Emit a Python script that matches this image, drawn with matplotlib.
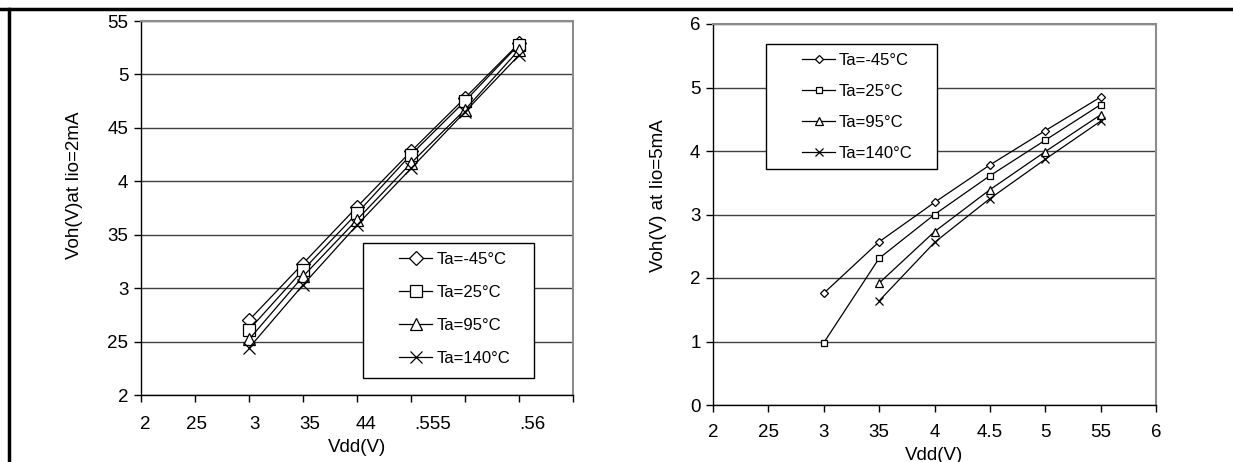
import matplotlib
matplotlib.use('Agg')
import matplotlib.pyplot as plt
from matplotlib.lines import Line2D
from matplotlib.patches import Rectangle

plt.rcParams['font.family'] = ['Liberation Sans', 'DejaVu Sans']

W, H = 1233, 462

labels = ['Ta=-45°C', 'Ta=25°C', 'Ta=95°C', 'Ta=140°C']
markers = ['D', 's', '^', 'x']

# left chart: Voh at Iio=2mA vs Vdd
vdd_2ma = [3, 3.5, 4, 4.5, 5, 5.5]
voh2_m45 = [2.70, 3.23, 3.76, 4.28, 4.78, 5.29]
voh2_25 = [2.61, 3.17, 3.70, 4.25, 4.75, 5.28]
voh2_95 = [2.52, 3.11, 3.64, 4.17, 4.67, 5.23]
voh2_140 = [2.44, 3.03, 3.59, 4.12, 4.65, 5.18]

# right chart: Voh at Iio=5mA vs Vdd
vdd_5ma_a = [3, 3.5, 4, 4.5, 5, 5.5]
vdd_5ma_b = [3.5, 4, 4.5, 5, 5.5]
voh5_m45 = [1.76, 2.57, 3.19, 3.78, 4.32, 4.85]
voh5_25 = [0.98, 2.31, 3.00, 3.61, 4.17, 4.73]
voh5_95 = [1.92, 2.73, 3.39, 3.99, 4.57]
voh5_140 = [1.64, 2.56, 3.25, 3.87, 4.47]

# tick labels as printed (garbled in the source)
yt_left = [2, 2.5, 3, 3.5, 4, 4.5, 5, 5.5]
yt_left_lab = ['2', '25', '3', '35', '4', '45', '5', '55']
xt_left_lab_pos = [2.04, 2.51, 3.05, 3.56, 4.08, 4.7, 5.62]
xt_left_lab = ['2', '25', '3', '35', '44', '.555', '.56']
xt = [2, 2.5, 3, 3.5, 4, 4.5, 5, 5.5, 6]
xt_right_lab = ['2', '25', '3', '35', '4', '4.5', '5', '55', '6']
yt_right = [0, 1, 2, 3, 4, 5, 6]

FS = 13.5


def px_box(x0, y0, x1, y1):
    return [x0 / W, 1 - y1 / H, (x1 - x0) / W, (y1 - y0) / H]


def style_axes(ax):
    for s in ['top', 'right']:
        ax.spines[s].set_color('#8c8c8c')
        ax.spines[s].set_linewidth(1.5)
    for s in ['left', 'bottom']:
        ax.spines[s].set_color('black')
        ax.spines[s].set_linewidth(1.0)
    ax.yaxis.grid(True, color='#404040', linewidth=1.0)
    ax.set_axisbelow(True)
    ax.tick_params(which='major', direction='out', length=5, width=1,
                   labelsize=FS, top=False, right=False)


fig = plt.figure(figsize=(W / 100, H / 100), dpi=100)

# outer frame (top and left lines)
fig.add_artist(Line2D([0, 1], [1 - 8.5 / H, 1 - 8.5 / H], color='black', lw=2.5))
fig.add_artist(Line2D([8.5 / W, 8.5 / W], [0, 1 - 8.5 / H], color='black', lw=2.5))

# ---------- left ----------
ax1 = fig.add_axes(px_box(141, 21, 573, 395))
series1 = [voh2_m45, voh2_25, voh2_95, voh2_140]
sizes1 = [7, 8.5, 9, 9]
for yv, m, lab, ms in zip(series1, markers, labels, sizes1):
    ax1.plot(vdd_2ma, yv, color='black', lw=0.9, marker=m, ms=ms,
             mfc='white' if m != 'x' else 'black', mec='black', mew=0.9, label=lab)
ax1.set_xlim(2, 6)
ax1.set_ylim(2, 5.5)
ax1.set_yticks(yt_left, labels=yt_left_lab)
ax1.set_xticks(xt, labels=[''] * len(xt))
ax1.set_xticks(xt_left_lab_pos, labels=xt_left_lab, minor=True)
style_axes(ax1)
ax1.tick_params(axis='x', which='minor', length=0, labelsize=FS, pad=15)
ax1.tick_params(axis='y', pad=4)
ax1.set_xlabel('Vdd(V)', fontsize=FS)
ax1.xaxis.set_label_coords(0.5, -0.118)
ax1.set_ylabel('Voh(V)at Iio=2mA', fontsize=FS)
ax1.yaxis.set_label_coords(-0.135, 0.56)

fig.add_artist(Rectangle((363 / W, 1 - 378 / H), 171 / W, 135 / H, transform=fig.transFigure,
                         facecolor='white', edgecolor='black', lw=1.0, zorder=3))
leg1 = ax1.legend(loc='upper left', bbox_to_anchor=(399 / W, 1 - 252 / H),
                  bbox_transform=fig.transFigure, frameon=False, borderpad=0,
                  borderaxespad=0, handlelength=2.0, handletextpad=0.25,
                  labelspacing=1.08, fontsize=12)
leg1.set_zorder(4)
fig.add_artist(leg1)

# ---------- right ----------
ax2 = fig.add_axes(px_box(713, 24, 1156, 405))
xs2 = [vdd_5ma_a, vdd_5ma_a, vdd_5ma_b, vdd_5ma_b]
series2 = [voh5_m45, voh5_25, voh5_95, voh5_140]
sizes2 = [4, 5, 6, 6]
for xv, yv, m, lab, ms in zip(xs2, series2, markers, labels, sizes2):
    ax2.plot(xv, yv, color='black', lw=0.9, marker=m, ms=ms,
             mfc='white' if m != 'x' else 'black', mec='black', mew=0.9, label=lab)
ax2.set_xlim(2, 6)
ax2.set_ylim(0, 6)
ax2.set_yticks(yt_right)
ax2.set_xticks(xt, labels=xt_right_lab)
style_axes(ax2)
ax2.tick_params(axis='x', pad=9)
ax2.tick_params(axis='y', pad=4)
ax2.set_xlabel('Vdd(V)', fontsize=FS)
ax2.xaxis.set_label_coords(0.5, -0.11)
ax2.set_ylabel('Voh(V) at Iio=5mA', fontsize=FS)
ax2.yaxis.set_label_coords(-0.104, 0.55)

fig.add_artist(Rectangle((766 / W, 1 - 169 / H), 171 / W, 125 / H, transform=fig.transFigure,
                         facecolor='white', edgecolor='black', lw=1.0, zorder=3))
leg2 = ax2.legend(loc='upper left', bbox_to_anchor=(802 / W, 1 - 53 / H),
                  bbox_transform=fig.transFigure, frameon=False, borderpad=0,
                  borderaxespad=0, handlelength=2.0, handletextpad=0.2,
                  labelspacing=0.95, fontsize=12)
leg2.set_zorder(4)
fig.add_artist(leg2)

fig.savefig('out.png', dpi=100)
